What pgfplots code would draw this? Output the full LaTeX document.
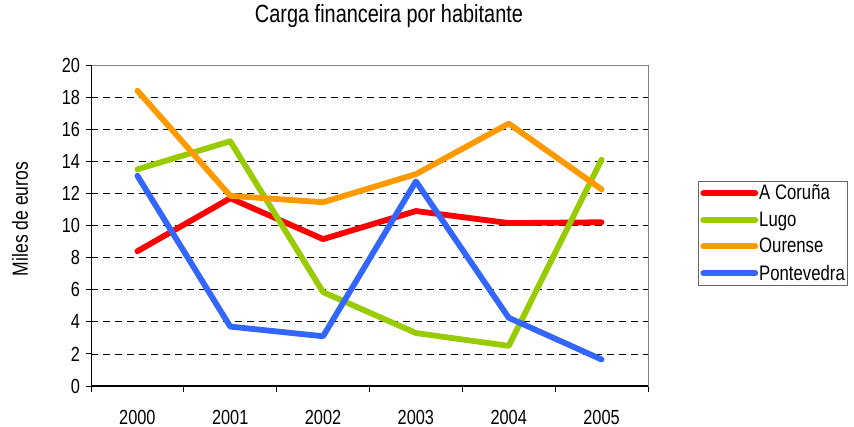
\documentclass[border=0pt]{standalone}
\usepackage{fontspec}
\setmainfont{Liberation Sans}[FakeStretch=0.8]
\usepackage{pgfplots}
\pgfplotsset{compat=1.18}
\definecolor{cRed}{HTML}{FF0000}
\definecolor{cGreen}{HTML}{99CC00}
\definecolor{cOrange}{HTML}{FF9900}
\definecolor{cBlue}{HTML}{3366FF}
\begin{document}
\begin{tikzpicture}
\useasboundingbox (0,0) rectangle (854bp,427bp);
\begin{axis}[
  at={(91bp,41bp)}, anchor=south west,
  scale only axis, width=557bp, height=321bp,
  xmin=-0.5, xmax=5.5, ymin=0, ymax=20,
  clip=false,
  xtick={-0.5,0.5,1.5,2.5,3.5,4.5,5.5},
  x tick label as interval,
  xticklabels={2000,2001,2002,2003,2004,2005},
  ytick={0,2,...,20},
  tick pos=left,
  tick align=outside,
  major tick length=5.5bp,
  tick style={draw=black, line width=0.8bp},
  /pgf/number format/assume math mode=true,
  tick label style={font=\fontsize{20.5}{23}\selectfont},
  xticklabel style={yshift=-15bp},
  yticklabel style={xshift=-2bp},
  ymajorgrids,
  grid style={black, dash pattern=on 7bp off 5bp, line width=0.7bp},
  axis line style={draw=black!50, line width=0.8bp},
  title={Carga financeira por habitante},
  title style={at={(axis description cs:0.535,1.134)}, anchor=center, font=\fontsize{25}{28}\selectfont},
  ylabel={Miles de euros},
  ylabel style={at={(axis description cs:-0.1275,0.52)}, anchor=center, rotate=0, font=\fontsize{22}{25}\selectfont},
  legend style={at={(axis description cs:1.0898,0.6386)}, anchor=north west,
    draw=black!60, line width=0.8bp, font=\fontsize{21}{24}\selectfont,
    inner xsep=2bp, inner ysep=2.5bp, row sep=8.5bp, nodes={inner sep=1bp}},
  legend cell align=left,
  legend image code/.code={\draw[#1, line width=5.8bp, line cap=round] (0bp,0bp) -- (52bp,0bp);},
  every axis plot/.append style={line width=5.8bp, line cap=round, line join=round},
]
\addplot[cRed] coordinates {(0,8.4) (1,11.7) (2,9.15) (3,10.9) (4,10.15) (5,10.2)};
\addlegendentry{A Coruña}
\addplot[cGreen] coordinates {(0,13.5) (1,15.25) (2,5.85) (3,3.3) (4,2.5) (5,14.1)};
\addlegendentry{Lugo}
\addplot[cOrange] coordinates {(0,18.4) (1,11.85) (2,11.45) (3,13.2) (4,16.35) (5,12.25)};
\addlegendentry{Ourense}
\addplot[cBlue] coordinates {(0,13.1) (1,3.7) (2,3.1) (3,12.75) (4,4.25) (5,1.65)};
\addlegendentry{Pontevedra}
\draw[black, line width=1bp] (rel axis cs:0,0) -- (rel axis cs:0,1);
\draw[black, line width=2.2bp] (rel axis cs:0,0) -- (rel axis cs:1,0);
\end{axis}
\end{tikzpicture}
\end{document}
